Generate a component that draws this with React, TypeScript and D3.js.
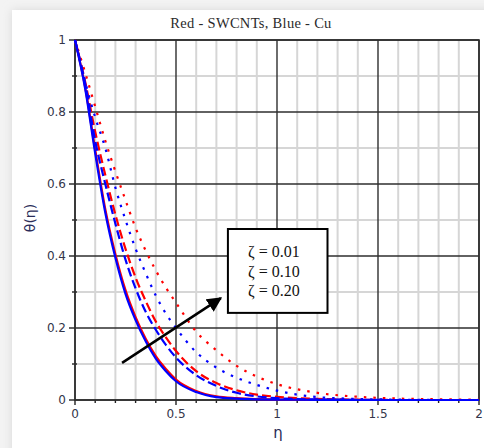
import React from "react";
import * as d3 from "d3";

const etaGrid = [0, 0.05, 0.1, 0.15, 0.2, 0.25, 0.3, 0.35, 0.4, 0.45, 0.5, 0.6, 0.7, 0.8, 0.9, 1.0, 1.2, 1.4, 1.6, 1.8, 2.0];

const cuZeta001 = [1, 0.866, 0.685, 0.52, 0.395, 0.295, 0.222, 0.163, 0.115, 0.08, 0.052, 0.022, 0.008, 0.004, 0.002, 0.001, 0.0005, 0, 0, 0, 0];
const swZeta001 = [1, 0.87, 0.695, 0.53, 0.405, 0.305, 0.23, 0.17, 0.122, 0.086, 0.057, 0.025, 0.01, 0.005, 0.0025, 0.0012, 0.0005, 0, 0, 0, 0];
const cuZeta010 = [1, 0.88, 0.72, 0.6, 0.49, 0.39, 0.31, 0.245, 0.195, 0.153, 0.118, 0.069, 0.039, 0.02, 0.01, 0.005, 0.0015, 0.0005, 0, 0, 0];
const swZeta010 = [1, 0.885, 0.745, 0.625, 0.515, 0.42, 0.34, 0.275, 0.218, 0.174, 0.136, 0.08, 0.047, 0.027, 0.015, 0.009, 0.003, 0.001, 0, 0, 0];
const cuZeta020 = [1, 0.885, 0.785, 0.7, 0.59, 0.5, 0.42, 0.352, 0.29, 0.24, 0.2, 0.133, 0.09, 0.062, 0.042, 0.026, 0.008, 0.003, 0.001, 0, 0];
const swZeta020 = [1, 0.91, 0.815, 0.72, 0.635, 0.555, 0.478, 0.415, 0.36, 0.312, 0.27, 0.19, 0.138, 0.095, 0.065, 0.044, 0.02, 0.009, 0.004, 0.002, 0.001];

const xTicks = [0, 0.5, 1, 1.5, 2];
const xTickLabels = ["0", "0.5", "1", "1.5", "2"];
const yTicks = [0, 0.2, 0.4, 0.6, 0.8, 1];
const yTickLabels = ["0", "0.2", "0.4", "0.6", "0.8", "1"];
const legendLabels = ["ζ = 0.01", "ζ = 0.10", "ζ = 0.20"];
const titleText = "Red - SWCNTs, Blue - Cu";

const series = [
  { values: swZeta001, color: "#ff0000", style: "solid" },
  { values: swZeta010, color: "#ff0000", style: "dashed" },
  { values: swZeta020, color: "#ff0000", style: "dotted" },
  { values: cuZeta001, color: "#0000ff", style: "solid" },
  { values: cuZeta010, color: "#0000ff", style: "dashed" },
  { values: cuZeta020, color: "#0000ff", style: "dotted" },
];

// annotation positions in data units
const arrowFrom = [0.233, 0.103];
const arrowTo = [0.722, 0.283];
const legendBox = { x0: 0.757, x1: 1.25, y0: 0.475, y1: 0.242 };

export default function App() {
  const W = 484, H = 448;
  const x = d3.scaleLinear().domain([0, 2]).range([75, 479]);
  const y = d3.scaleLinear().domain([0, 1]).range([400, 40]);
  const minorX = d3.range(0, 21).map((i) => i / 10);
  const minorY = d3.range(0, 11).map((i) => i / 10);
  const line = d3
    .line<number>()
    .x((_, i) => x(etaGrid[i]))
    .y((d) => y(d))
    .curve(d3.curveMonotoneX);
  const dash = (s: string) => (s === "dashed" ? "9,4" : s === "dotted" ? "2.5,7" : undefined);
  const tickFont = "'DejaVu Sans', Verdana, sans-serif";
  const tickColor = "#33354a";

  return (
    <svg width={W} height={H} style={{ position: "absolute", left: 0, top: 0 }} xmlns="http://www.w3.org/2000/svg">
      <defs>
        <filter id="sh" x="-10%" y="-10%" width="120%" height="120%">
          <feGaussianBlur stdDeviation="5" />
        </filter>
        <marker id="ah" viewBox="0 0 10 10" refX="9" refY="5" markerWidth="6" markerHeight="6" orient="auto" markerUnits="strokeWidth">
          <path d="M0,0 L10,5 L0,10 z" fill="#000" />
        </marker>
      </defs>
      <rect x={0} y={0} width={W} height={H} fill="#f3f3f3" />
      <rect x={12} y={10} width={W} height={H} fill="#d8d8d8" filter="url(#sh)" />
      <rect x={12} y={10} width={W} height={H} fill="#ffffff" />

      <text x={251} y={28} textAnchor="middle" fontFamily="'Liberation Serif', 'Times New Roman', serif" fontSize={14.5} fill="#2a2a2a" letterSpacing={0.3}>
        {titleText}
      </text>

      {/* minor grid */}
      {minorX.filter((v) => Math.abs((v * 2) % 1) > 1e-6).map((v) => (
        <line key={"mx" + v} x1={x(v)} x2={x(v)} y1={y(1)} y2={y(0)} stroke="#d6d6d6" strokeWidth={2} />
      ))}
      {minorY.filter((v, i) => i % 2 === 1).map((v) => (
        <line key={"my" + v} x1={x(0)} x2={x(2)} y1={y(v)} y2={y(v)} stroke="#d6d6d6" strokeWidth={2} />
      ))}
      {/* major grid */}
      {xTicks.map((v) => (
        <line key={"Mx" + v} x1={x(v)} x2={x(v)} y1={y(1)} y2={y(0)} stroke="#2e2e2e" strokeWidth={1.4} />
      ))}
      {yTicks.map((v) => (
        <line key={"My" + v} x1={x(0)} x2={x(2)} y1={y(v)} y2={y(v)} stroke="#2e2e2e" strokeWidth={1.4} />
      ))}
      {/* ticks */}
      {minorX.map((v, i) => (
        <line key={"tx" + v} x1={x(v)} x2={x(v)} y1={y(0)} y2={y(0) + (i % 5 === 0 ? 5 : 3)} stroke="#222" strokeWidth={1.4} />
      ))}
      {minorY.map((v, i) => (
        <line key={"ty" + v} x1={x(0) - (i % 2 === 0 ? 6 : 3)} x2={x(0) + (i % 2 === 0 ? 0 : 2)} y1={y(v)} y2={y(v)} stroke="#222" strokeWidth={1.4} />
      ))}
      <rect x={x(0)} y={y(1)} width={x(2) - x(0)} height={y(0) - y(1)} fill="none" stroke="#2e2e2e" strokeWidth={1.6} />

      {/* curves */}
      {series.map((s, i) => (
        <path key={i} d={line(s.values) || ""} fill="none" stroke={s.color} strokeWidth={2.2} strokeDasharray={dash(s.style)} />
      ))}

      {/* tick labels */}
      {xTicks.map((v, i) => (
        <text key={"xl" + v} x={x(v)} y={418} textAnchor="middle" fontFamily={tickFont} fontSize={12} fill={tickColor}>
          {xTickLabels[i]}
        </text>
      ))}
      {yTicks.map((v, i) => (
        <text key={"yl" + v} x={66} y={y(v)} dy="0.36em" textAnchor="end" fontFamily={tickFont} fontSize={12} fill={tickColor}>
          {yTickLabels[i]}
        </text>
      ))}
      <text x={278} y={438} textAnchor="middle" fontFamily={tickFont} fontSize={15} fill="#2a2c58">η</text>
      <text transform="translate(35,218) rotate(-90)" textAnchor="middle" fontFamily={tickFont} fontSize={14} fill="#2a2c58">θ(η)</text>

      {/* arrow */}
      <line x1={x(arrowFrom[0])} y1={y(arrowFrom[1])} x2={x(arrowTo[0])} y2={y(arrowTo[1])} stroke="#000" strokeWidth={2.5} markerEnd="url(#ah)" />

      {/* legend box */}
      <rect x={x(legendBox.x0)} y={y(legendBox.y0)} width={x(legendBox.x1) - x(legendBox.x0)} height={y(legendBox.y1) - y(legendBox.y0)} fill="#fff" stroke="#000" strokeWidth={2} />
      {legendLabels.map((t, i) => (
        <text key={t} x={248} y={257 + i * 19.5} fontFamily="'Liberation Serif', 'Times New Roman', serif" fontSize={16} fill="#111">
          {t}
        </text>
      ))}
    </svg>
  );
}
